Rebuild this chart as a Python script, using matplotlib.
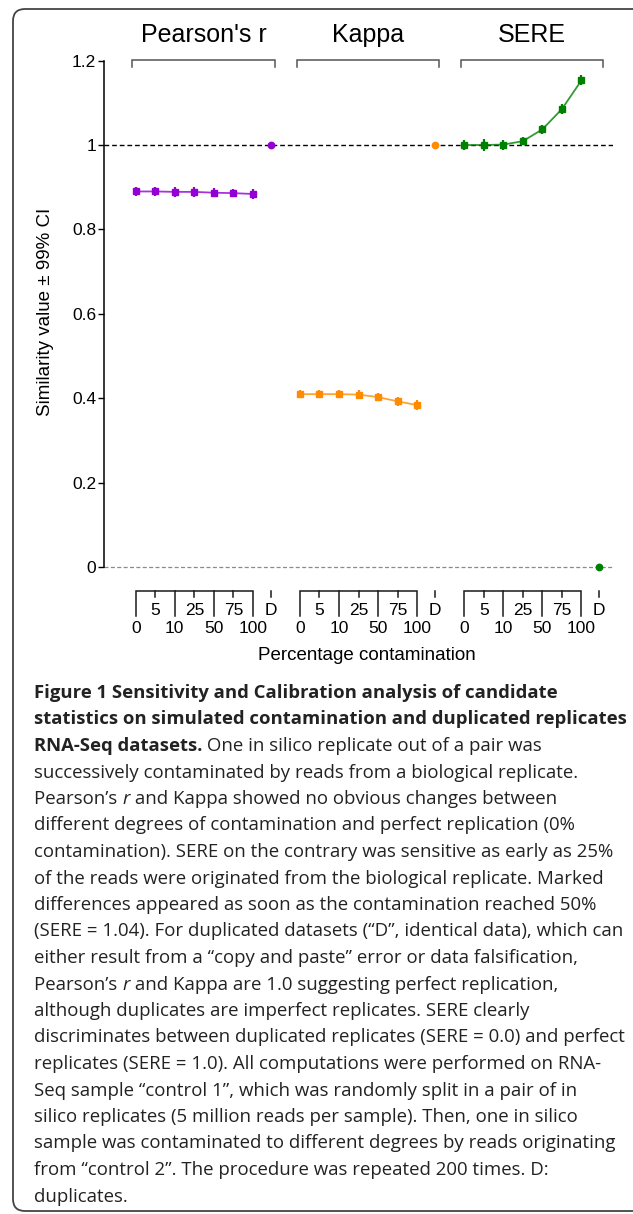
import matplotlib
matplotlib.use('Agg')
import matplotlib.pyplot as plt
import matplotlib.transforms as mtransforms
from matplotlib.patches import FancyBboxPatch

# ---------------- data ----------------
groups = ["Pearson's r", "Kappa", "SERE"]
contamination_labels = ["0", "5", "10", "25", "50", "75", "100"]
dup_label = "D"
pearson_vals = [0.890, 0.890, 0.889, 0.889, 0.887, 0.886, 0.884]
pearson_err = [0.011, 0.010, 0.011, 0.011, 0.011, 0.010, 0.011]
pearson_dup = 1.0
kappa_vals = [0.410, 0.410, 0.410, 0.409, 0.403, 0.393, 0.384]
kappa_err = [0.010, 0.010, 0.010, 0.011, 0.010, 0.011, 0.011]
kappa_dup = 1.0
sere_vals = [1.000, 1.000, 1.001, 1.009, 1.037, 1.085, 1.153]
sere_err = [0.012, 0.014, 0.012, 0.010, 0.011, 0.012, 0.012]
sere_dup = 0.0
yticks = [0, 0.2, 0.4, 0.6, 0.8, 1.0, 1.2]
ytick_labels = ["0", "0.2", "0.4", "0.6", "0.8", "1", "1.2"]
colors = ["#9400D3", "#FF8C00", "#008000"]
ylabel = "Similarity value ± 99% CI"
xlabel = "Percentage contamination"

caption_lines = [
    [("Figure 1 Sensitivity and Calibration analysis of candidate", "b")],
    [("statistics on simulated contamination and duplicated replicates", "b")],
    [("RNA-Seq datasets.", "b"), (" One in silico replicate out of a pair was", "n")],
    [("successively contaminated by reads from a biological replicate.", "n")],
    [("Pearson’s ", "n"), ("r", "i"), (" and Kappa showed no obvious changes between", "n")],
    [("different degrees of contamination and perfect replication (0%", "n")],
    [("contamination). SERE on the contrary was sensitive as early as 25%", "n")],
    [("of the reads were originated from the biological replicate. Marked", "n")],
    [("differences appeared as soon as the contamination reached 50%", "n")],
    [("(SERE = 1.04). For duplicated datasets (“D”, identical data), which can", "n")],
    [("either result from a “copy and paste” error or data falsification,", "n")],
    [("Pearson’s ", "n"), ("r", "i"), (" and Kappa are 1.0 suggesting perfect replication,", "n")],
    [("although duplicates are imperfect replicates. SERE clearly", "n")],
    [("discriminates between duplicated replicates (SERE = 0.0) and perfect", "n")],
    [("replicates (SERE = 1.0). All computations were performed on RNA-", "n")],
    [("Seq sample “control 1”, which was randomly split in a pair of in", "n")],
    [("silico replicates (5 million reads per sample). Then, one in silico", "n")],
    [("sample was contaminated to different degrees by reads originating", "n")],
    [("from “control 2”. The procedure was repeated 200 times. D:", "n")],
    [("duplicates.", "n")],
]

# ---------------- layout ----------------
W, H, DPI = 633, 1214, 100
X0, UX = 135.7, 19.55      # pixel of first point, pixels per x unit
Y0, UY = 567.3, 422.3      # pixel of y=0, pixels per y unit
GROUP_STEP = 8.4
DUP_POS = 6.9
AX_L, AX_R, AX_T, AX_B = 104.3, 612.7, 50, 580

plt.rcParams['font.family'] = ['Liberation Sans', 'DejaVu Sans']
fig = plt.figure(figsize=(W / DPI, H / DPI), dpi=DPI)
fig.patch.set_facecolor('white')
ident = mtransforms.IdentityTransform()

def yv(py):
    return (Y0 - py) / UY

ax = fig.add_axes([AX_L / W, 1 - AX_B / H, (AX_R - AX_L) / W, (AX_B - AX_T) / H])
ax.set_xlim((AX_L - X0) / UX, (AX_R - X0) / UX)
ax.set_ylim(yv(AX_B), yv(AX_T))
ax.patch.set_alpha(0)
for s in ['top', 'right', 'bottom']:
    ax.spines[s].set_visible(False)
ax.spines['left'].set_bounds(0, 1.2)
ax.spines['left'].set_linewidth(1.1)
ax.set_xticks([])
ax.set_yticks(yticks)
ax.set_yticklabels(ytick_labels)
ax.tick_params(axis='y', direction='out', length=4.3, width=1.0, labelsize=12.5, pad=1.5)

ax.axhline(1.0, color='black', lw=1.0, ls=(0, (3.4, 2.1)), zorder=1)
ax.axhline(0.0, color='#8a8a8a', lw=0.9, ls=(0, (3.2, 1.9)), zorder=1)

series = [(pearson_vals, pearson_err, pearson_dup),
          (kappa_vals, kappa_err, kappa_dup),
          (sere_vals, sere_err, sere_dup)]

for g, (vals, err, dup) in enumerate(series):
    base = g * GROUP_STEP
    xs = [base + i for i in range(len(vals))]
    c = colors[g]
    ax.plot(xs, vals, color=c, lw=1.3, alpha=0.8, zorder=3)
    ax.errorbar(xs, vals, yerr=err, fmt='s', ms=3.8, color=c, ecolor=c,
                elinewidth=1.6, capsize=0, zorder=4)
    ax.plot([base + DUP_POS], [dup], 'o', ms=4.6, color=c, zorder=5, clip_on=False)

    # top bracket and title
    xa, xb = base - 0.17, base + 7.1
    ax.plot([xa, xa, xb, xb], [yv(67), yv(60), yv(60), yv(67)], color='#555555',
            lw=1.1, clip_on=False, solid_joinstyle='miter')
    ax.text((xa + xb) / 2, yv(35), groups[g], ha='center', va='center', fontsize=18)

    # bottom bracket axis
    x_first, x_last = xs[0], xs[-1]
    ax.plot([x_first, x_first, x_last, x_last], [yv(616), yv(591), yv(591), yv(616)],
            color='#1a1a1a', lw=1.1, clip_on=False, solid_joinstyle='miter')
    for i, x in enumerate(xs):
        if i % 2 == 0:
            if 0 < i < len(xs) - 1:
                ax.plot([x, x], [yv(591), yv(616)], color='#1a1a1a', lw=1.1, clip_on=False)
            ax.text(x, yv(628), contamination_labels[i], ha='center', va='center', fontsize=12.5)
        else:
            ax.plot([x, x], [yv(591), yv(597)], color='#1a1a1a', lw=1.1, clip_on=False)
            ax.text(x, yv(610), contamination_labels[i], ha='center', va='center', fontsize=12.5)
    xd = base + DUP_POS
    ax.plot([xd, xd], [yv(591), yv(597)], color='#1a1a1a', lw=1.1, clip_on=False)
    ax.text(xd, yv(610), dup_label, ha='center', va='center', fontsize=12.5)

fig.text(46, H - 312, ylabel, transform=ident, rotation=90, ha='center', va='center', fontsize=13.5)
fig.text(366.5, H - 655, xlabel, transform=ident, ha='center', va='center', fontsize=13.5)

# ---------------- border ----------------
border = FancyBboxPatch((13, 3), 650, H - 9 - 3, boxstyle="round,pad=0,rounding_size=12",
                        transform=ident, fill=False, edgecolor='#444444', lw=1.3)
fig.patches.append(border)

# ---------------- caption ----------------
renderer = fig.canvas.get_renderer()
CAP_FONT = ['Open Sans', 'DejaVu Sans']
styles = {"n": dict(weight='normal', style='normal'),
          "b": dict(weight='bold', style='normal'),
          "i": dict(weight='normal', style='italic')}

def adv(s, size, st):
    t = fig.text(0, 0, s + '|', fontsize=size, family=CAP_FONT, transform=ident, **styles[st])
    w1 = t.get_window_extent(renderer).width
    t.set_text('|')
    w2 = t.get_window_extent(renderer).width
    t.remove()
    return w1 - w2

CAP_X = 34
reg_size = 10 * 593 / adv(caption_lines[13][0][0], 10, "n")
bold_size = 10 * 591 / adv(caption_lines[1][0][0], 10, "b")
sizes = {"n": reg_size, "i": reg_size, "b": bold_size}

for li, runs in enumerate(caption_lines):
    y = H - (693 + 26.5 * li)
    x = CAP_X
    for text, st in runs:
        fig.text(x, y, text, transform=ident, fontsize=sizes[st], family=CAP_FONT,
                 ha='left', va='center', color='#222222', **styles[st])
        x += adv(text, sizes[st], st)

fig.savefig('out.png', dpi=DPI)
